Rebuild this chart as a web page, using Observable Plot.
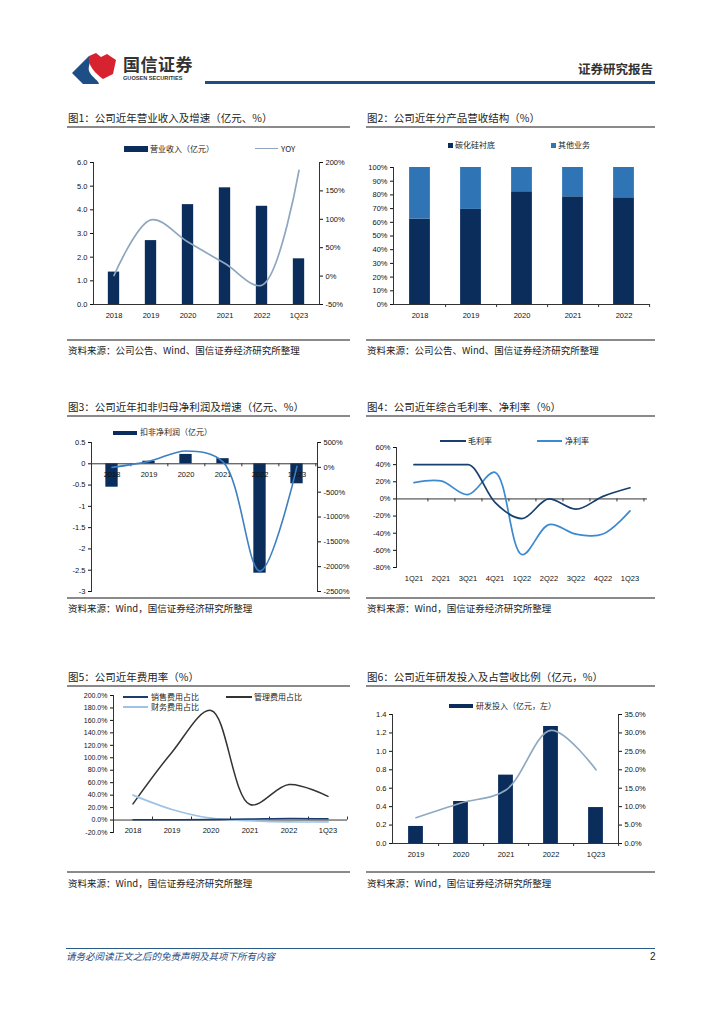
<!DOCTYPE html>
<html><head><meta charset="utf-8">
<script src="https://cdn.jsdelivr.net/npm/d3@7"></script>
<script src="https://cdn.jsdelivr.net/npm/@observablehq/plot@0.6"></script>
<style>
body{margin:0;width:724px;height:1024px;position:relative;background:#fff;overflow:hidden;font-family:"Noto Sans CJK SC","Noto Sans",sans-serif;color:#222;}
.abs{position:absolute;white-space:nowrap;}
</style></head><body>
<script>
// ---------- DATA ----------
const years1 = ["2018","2019","2020","2021","2022","1Q23"];
const revenue = [1.37, 2.70, 4.22, 4.93, 4.15, 1.93];
const revenueYoy = [1, 99, 60, 22, -16, 186];
const revTicks = [0,1,2,3,4,5,6];
const yoyTicks = [-50,0,50,100,150,200];

const years2 = ["2018","2019","2020","2021","2022"];
const types2 = ["碳化硅衬底","其他业务"];
const sicShare = [62.4, 69.4, 82.3, 78.6, 77.9];
const otherShare = [37.6, 30.6, 17.7, 21.4, 22.1];
const shareTicks = [0,10,20,30,40,50,60,70,80,90,100];

const years3 = ["2018","2019","2020","2021","2022","1Q23"];
const netProfitAdj = [-0.55, 0.06, 0.22, 0.12, -2.57, -0.47];
const netProfitYoy = [0, 120, 330, 110, -2090, 20];
const npTicks = [0.5,0,-0.5,-1,-1.5,-2,-2.5,-3];
const npYoyTicks = [500,0,-500,-1000,-1500,-2000,-2500];

const quarters = ["1Q21","2Q21","3Q21","4Q21","1Q22","2Q22","3Q22","4Q22","1Q23"];
const grossMargin = [40, 40, 40, -4, -23, 0, -12, 3, 13];
const netMargin = [19, 21, 5, 31, -65, -30, -41, -41, -14];
const marginTicks = [60,40,20,0,-20,-40,-60,-80];

const years5 = ["2018","2019","2020","2021","2022","1Q23"];
const sellingRatio = [0.5, 0.6, 0.8, 1.5, 2.5, 2.0];
const adminRatio = [26, 109, 176, 25, 57, 38];
const financeRatio = [40, 17, 3, -1, -3, -3];
const expTicks = [200,180,160,140,120,100,80,60,40,20,0,-20];

const years6 = ["2019","2020","2021","2022","1Q23"];
const rdExpense = [0.185, 0.456, 0.742, 1.27, 0.39];
const rdRatio = [7, 11, 14.5, 30.7, 20];
const rdTicks = [0,0.2,0.4,0.6,0.8,1.0,1.2,1.4];
const rdRatioTicks = [0,5,10,15,20,25,30,35];

// ---------- HELPERS ----------
const NAVY = "#0b2d5c", BLUE2 = "#2f75b5", AX = "#333";
const baseStyle = {fontFamily:'"Liberation Sans", Arial, sans-serif', fontSize:"7.5px", color:"#111", background:"transparent", overflow:"visible"};
function place(el, left, top){ el.style.position="absolute"; el.style.left=left+"px"; el.style.top=top+"px"; document.body.appendChild(el); return el; }
function addText(s, x, cy, size, extra={}){ const d=document.createElement("div"); d.className="abs"; d.textContent=s; d.style.left=x+"px"; d.style.top=(cy-size*0.62)+"px"; d.style.fontSize=size+"px"; d.style.lineHeight=(size*1.24)+"px"; Object.assign(d.style, extra); document.body.appendChild(d); return d; }
function box(x1,x2,y1,y2,color){ const d=document.createElement("div"); d.className="abs"; d.style.left=x1+"px"; d.style.top=y1+"px"; d.style.width=(x2-x1)+"px"; d.style.height=(y2-y1)+"px"; d.style.background=color; document.body.appendChild(d); return d; }
function hline(x1,x2,y,color,th){ return box(x1,x2,y-th/2,y+th/2,color); }
function titleBlock(t, x1, x2, cy, ly){ addText(t, x1, cy, 10.5, {color:"#222"}); hline(x1-1, x2, ly, "#8a8a8a", 1.5); }
function sourceBlock(t, x1, x2, cy, ly){ hline(x1-1, x2, ly, "#8a8a8a", 1.5); addText(t, x1, cy, 9.5, {color:"#222"}); }
function legRect(x1,x2,y1,y2,color,label,tx,cy){ box(x1,x2,y1,y2,color); addText(label, tx, cy, 8); }
function legLine(x1,x2,y,color,label,tx){ hline(x1,x2,y,color,1.8); addText(label, tx, y, 8); }
function bticks(cats, step, dir){ return Plot.ruleX(cats, {x:d=>d, y1:0, y2:0, insetBottom: dir, dx: step/2, stroke: AX}); }

// ---------- HEADER ----------
const ns = "http://www.w3.org/2000/svg";
const logo = document.createElementNS(ns,"svg");
logo.setAttribute("width","46"); logo.setAttribute("height","32"); logo.setAttribute("viewBox","0 0 46 32");
logo.innerHTML = '<path d="M0,21 L17,4 C21,9 14,15 18,21 C21,26 26,28 27,32 L11,32 Z" fill="#1d4f86"/>' +
  '<path d="M17,4 L24,1 L29,5 L35,2 L44,8 L41,22 L31,27 C24,22 15,13 17,4 Z" fill="#d7232f"/>';
place(logo, 72, 52);
addText("国信证券", 123, 64, 17, {fontWeight:"bold", color:"#333", letterSpacing:"0.5px"});
addText("GUOSEN SECURITIES", 123, 78, 5.6, {fontWeight:"bold", color:"#333", fontFamily:'"Liberation Sans", Arial'});
addText("证券研究报告", 578, 69, 12.5, {fontWeight:"bold", color:"#333"});
hline(205, 655, 82.5, "#1f4e86", 2.2);

// ---------- FOOTER ----------
hline(66, 655, 948, "#2a5a8a", 1);
addText("请务必阅读正文之后的免责声明及其项下所有内容", 66, 957, 9.5, {fontStyle:"italic", color:"#1f4e86"});
addText("2", 650, 957, 10, {color:"#222", fontFamily:'"Liberation Sans", Arial'});

// ---------- CHART 1 ----------
titleBlock("图1：公司近年营业收入及增速（亿元、%）", 68, 350, 118, 127);
sourceBlock("资料来源：公司公告、Wind、国信证券经济研究所整理", 68, 350, 351, 340);
legRect(124,148,146,151.5,NAVY,"营业收入（亿元）",150,148.5);
legLine(255,278,148.5,"#8ea7bf","YOY",281);
{
  const W=290,H=175, m={marginLeft:33,marginRight:31,marginTop:12,marginBottom:21};
  const d = years1.map((y,i)=>({year:y, v:revenue[i], g:revenueYoy[i]}));
  const step=(W-m.marginLeft-m.marginRight)/years1.length, bw=12;
  place(Plot.plot({width:W,height:H,...m,style:baseStyle,x:{type:"band",domain:years1,padding:0},y:{domain:[0,6]},
    marks:[
      Plot.barY(d,{x:"year",y:"v",fill:NAVY,insetLeft:(step-bw)/2,insetRight:(step-bw)/2}),
      Plot.axisY({ticks:revTicks,tickFormat:v=>v.toFixed(1),tickSize:3,tickPadding:3,label:null}),
      Plot.axisX({tickSize:0,tickPadding:8,label:null}),
      Plot.frame({anchor:"left",stroke:AX}), Plot.frame({anchor:"bottom",stroke:AX})
    ]}), 60, 150);
  place(Plot.plot({width:W,height:H,...m,style:baseStyle,x:{type:"band",domain:years1,padding:0,axis:null},y:{domain:[-50,200]},
    marks:[
      Plot.line(d,{x:"year",y:"g",stroke:"#8ea7bf",strokeWidth:1.7,curve:"catmull-rom"}),
      Plot.axisY({anchor:"right",ticks:yoyTicks,tickFormat:v=>v+"%",tickSize:3,tickPadding:3,label:null}),
      Plot.frame({anchor:"right",stroke:AX})
    ]}), 60, 150);
}

// ---------- CHART 2 ----------
titleBlock("图2：公司近年分产品营收结构（%）", 367, 655, 118, 127);
sourceBlock("资料来源：公司公告、Wind、国信证券经济研究所整理", 367, 655, 351, 340);
legRect(448,452.5,143,147.5,NAVY,types2[0],455,145);
legRect(551,555.5,143,147.5,BLUE2,types2[1],558,145);
{
  const W=300,H=170, m={marginLeft:33,marginRight:11,marginTop:12,marginBottom:21};
  const d = years2.flatMap((y,i)=>[{year:y,type:types2[0],v:sicShare[i]},{year:y,type:types2[1],v:otherShare[i]}]);
  const step=(W-m.marginLeft-m.marginRight)/years2.length, bw=21;
  place(Plot.plot({width:W,height:H,...m,style:baseStyle,x:{type:"band",domain:years2,padding:0},y:{domain:[0,100]},
    color:{domain:types2,range:[NAVY,BLUE2]},
    marks:[
      Plot.barY(d,{x:"year",y:"v",fill:"type",insetLeft:(step-bw)/2,insetRight:(step-bw)/2}),
      Plot.axisY({ticks:shareTicks,tickFormat:v=>v+"%",tickSize:3,tickPadding:3,label:null}),
      Plot.axisX({tickSize:0,tickPadding:8,label:null}),
      bticks(years2, step, -3),
      Plot.frame({anchor:"left",stroke:AX}), Plot.frame({anchor:"bottom",stroke:AX})
    ]}), 360, 155);
}

// ---------- CHART 3 ----------
titleBlock("图3：公司近年扣非归母净利润及增速（亿元、%）", 68, 350, 407, 416);
sourceBlock("资料来源：Wind，国信证券经济研究所整理", 68, 350, 609, 598);
legRect(113,137,430.5,434.5,NAVY,"扣非净利润（亿元）",140,432);
{
  const W=290,H=170, m={marginLeft:31,marginRight:33,marginTop:12,marginBottom:9};
  const d = years3.map((y,i)=>({year:y, v:netProfitAdj[i], g:netProfitYoy[i]}));
  const step=(W-m.marginLeft-m.marginRight)/years3.length, bw=13;
  place(Plot.plot({width:W,height:H,...m,style:baseStyle,x:{type:"band",domain:years3,padding:0,axis:null},y:{domain:[-3,0.5]},
    marks:[
      Plot.barY(d,{x:"year",y:"v",fill:NAVY,insetLeft:(step-bw)/2,insetRight:(step-bw)/2}),
      Plot.ruleY([0],{stroke:AX}),
      bticks(years3, step, -3),
      Plot.text(d,{x:"year",y:0,text:"year",dy:11,fill:"#111"}),
      Plot.axisY({ticks:npTicks,tickFormat:v=>String(v),tickSize:3,tickPadding:3,label:null}),
      Plot.frame({anchor:"left",stroke:AX})
    ]}), 60, 430);
  place(Plot.plot({width:W,height:H,...m,style:baseStyle,x:{type:"band",domain:years3,padding:0,axis:null},y:{domain:[-2500,500]},
    marks:[
      Plot.line(d,{x:"year",y:"g",stroke:"#3d7fc1",strokeWidth:1.6,curve:"catmull-rom"}),
      Plot.axisY({anchor:"right",ticks:npYoyTicks,tickFormat:v=>v+"%",tickSize:3,tickPadding:3,label:null}),
      Plot.frame({anchor:"right",stroke:AX})
    ]}), 60, 430);
}

// ---------- CHART 4 ----------
titleBlock("图4：公司近年综合毛利率、净利率（%）", 367, 655, 407, 416);
sourceBlock("资料来源：Wind，国信证券经济研究所整理", 367, 655, 609, 598);
legLine(440,466,441,"#17406f","毛利率",468);
legLine(537,562,441,"#3c8ad0","净利率",565);
{
  const W=300,H=165, m={marginLeft:36,marginRight:13,marginTop:12,marginBottom:33};
  const d = quarters.map((q,i)=>({q, gm:grossMargin[i], nm:netMargin[i]}));
  const step=(W-m.marginLeft-m.marginRight)/quarters.length;
  place(Plot.plot({width:W,height:H,...m,style:baseStyle,x:{type:"band",domain:quarters,padding:0},y:{domain:[-80,60]},
    marks:[
      Plot.ruleY([0],{stroke:AX}),
      bticks(quarters, step, -3),
      Plot.line(d,{x:"q",y:"nm",stroke:"#3c8ad0",strokeWidth:1.7,curve:"catmull-rom"}),
      Plot.line(d,{x:"q",y:"gm",stroke:"#17406f",strokeWidth:1.7,curve:"monotone-x"}),
      Plot.axisY({ticks:marginTicks,tickFormat:v=>v+"%",tickSize:3,tickPadding:3,label:null}),
      Plot.axisX({tickSize:0,tickPadding:8,label:null}),
      Plot.frame({anchor:"left",stroke:AX})
    ]}), 360, 435);
}

// ---------- CHART 5 ----------
titleBlock("图5：公司近年费用率（%）", 68, 350, 677, 686);
sourceBlock("资料来源：Wind，国信证券经济研究所整理", 68, 350, 884, 872);
legLine(123,148,697,"#1a3c6e","销售费用占比",151);
legLine(226,252,697,"#333333","管理费用占比",254);
legLine(123,148,707,"#9dc3e6","财务费用占比",151);
{
  const W=290,H=165, m={marginLeft:53,marginRight:3,marginTop:10,marginBottom:18};
  const d = years5.map((y,i)=>({year:y, s:sellingRatio[i], a:adminRatio[i], f:financeRatio[i]}));
  const step=(W-m.marginLeft-m.marginRight)/years5.length;
  place(Plot.plot({width:W,height:H,...m,style:baseStyle,x:{type:"band",domain:years5,padding:0,axis:null},y:{domain:[-20,200]},
    marks:[
      Plot.ruleY([0],{stroke:AX}),
      bticks(years5, step, 3),
      Plot.text(d,{x:"year",y:0,text:"year",dy:11,fill:"#111"}),
      Plot.line(d,{x:"year",y:"a",stroke:"#333333",strokeWidth:1.5,curve:"catmull-rom"}),
      Plot.line(d,{x:"year",y:"f",stroke:"#9dc3e6",strokeWidth:1.7,curve:"catmull-rom"}),
      Plot.line(d,{x:"year",y:"s",stroke:"#1a3c6e",strokeWidth:1.5,curve:"catmull-rom"}),
      Plot.axisY({ticks:expTicks,tickFormat:v=>v.toFixed(1)+"%",tickSize:3,tickPadding:3,label:null,fontSize:7}),
      Plot.frame({anchor:"left",stroke:AX})
    ]}), 60, 685);
}

// ---------- CHART 6 ----------
titleBlock("图6：公司近年研发投入及占营收比例（亿元，%）", 367, 655, 677, 686);
sourceBlock("资料来源：Wind，国信证券经济研究所整理", 367, 655, 884, 872);
legRect(449,473,703.5,708,NAVY,"研发投入（亿元，左）",476,706);
{
  const W=300,H=165, m={marginLeft:32,marginRight:42,marginTop:14,marginBottom:22};
  const d = years6.map((y,i)=>({year:y, v:rdExpense[i], r:rdRatio[i]}));
  const step=(W-m.marginLeft-m.marginRight)/years6.length, bw=15;
  place(Plot.plot({width:W,height:H,...m,style:baseStyle,x:{type:"band",domain:years6,padding:0},y:{domain:[0,1.4]},
    marks:[
      Plot.barY(d,{x:"year",y:"v",fill:NAVY,insetLeft:(step-bw)/2,insetRight:(step-bw)/2}),
      bticks(years6, step, -3),
      Plot.axisY({ticks:rdTicks,tickFormat:v=>v.toFixed(1),tickSize:3,tickPadding:3,label:null}),
      Plot.axisX({tickSize:0,tickPadding:8,label:null}),
      Plot.frame({anchor:"left",stroke:AX}), Plot.frame({anchor:"bottom",stroke:AX})
    ]}), 360, 700);
  place(Plot.plot({width:W,height:H,...m,style:baseStyle,x:{type:"band",domain:years6,padding:0,axis:null},y:{domain:[0,35]},
    marks:[
      Plot.line(d,{x:"year",y:"r",stroke:"#8ea9c0",strokeWidth:1.7,curve:"catmull-rom"}),
      Plot.axisY({anchor:"right",ticks:rdRatioTicks,tickFormat:v=>v.toFixed(1)+"%",tickSize:3,tickPadding:3,label:null}),
      Plot.frame({anchor:"right",stroke:AX})
    ]}), 360, 700);
}
</script></body></html>
